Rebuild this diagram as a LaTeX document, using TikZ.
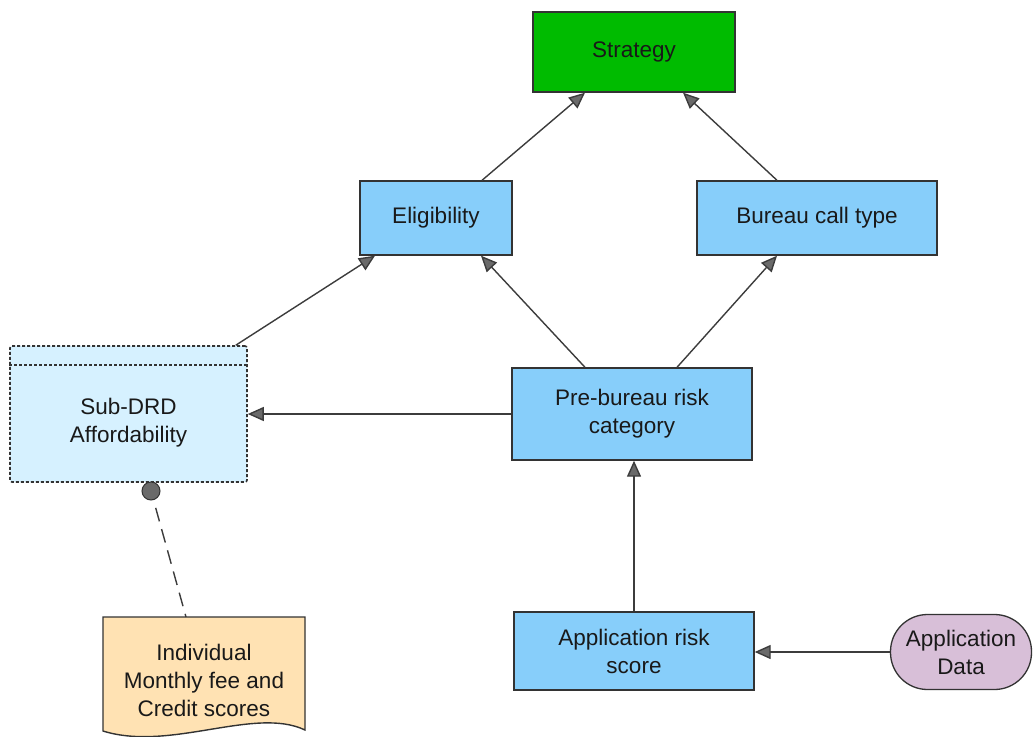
\documentclass[tikz,border=0pt]{standalone}
\usepackage{fontspec}
\setmainfont{Liberation Sans}
\usetikzlibrary{arrows.meta,calc}
\definecolor{stratgreen}{HTML}{00BB00}
\definecolor{boxblue}{HTML}{87CEFA}
\definecolor{subblue}{HTML}{D6F1FF}
\definecolor{docorange}{HTML}{FFE2B3}
\definecolor{datapurple}{HTML}{D8BFD8}
\definecolor{edgegray}{HTML}{3C3C3C}
\definecolor{bordergray}{HTML}{333333}
\definecolor{tipgray}{HTML}{6A6A6A}
\begin{document}
\begin{tikzpicture}[x=1pt,y=-1pt,
  txt/.style={font=\fontsize{22.5}{28}\selectfont, align=center, text=black!90},
  decision/.style={txt, draw=bordergray, line width=1.4pt, fill=boxblue, inner sep=0pt},
  subdrd/.style={draw=bordergray, line width=1.6pt, fill=subblue, dash pattern=on 3pt off 2pt, rounded corners=2pt, inner sep=0pt},
  datanode/.style={txt, draw=bordergray, line width=1.3pt, fill=datapurple, inner sep=0pt},
  req/.style={draw=edgegray, line width=1.4pt, -{Triangle[length=16pt,width=14pt,fill=tipgray]}},
  knowl/.style={draw=edgegray, line width=1.4pt, dash pattern=on 14pt off 8pt, dash phase=14pt}
]
\useasboundingbox (0,0) rectangle (1035,736);

\node[decision, fill=stratgreen, minimum width=202pt, minimum height=80pt] (strat) at (634,52) {Strategy};
\node[decision, minimum width=152pt, minimum height=74pt] (elig) at (436,218) {Eligibility};
\node[decision, minimum width=240pt, minimum height=74pt] (bureau) at (817,218) {Bureau call type};
\node[decision, minimum width=240pt, minimum height=92pt] (pre) at (632,414) {Pre-bureau risk\\category};
\node[decision, minimum width=240pt, minimum height=78pt] (ars) at (634,651) {Application risk\\score};
\node[datanode, rounded corners=37pt, minimum width=141pt, minimum height=75pt] (adata) at (961,652) {Application\\Data};

\node[subdrd, minimum width=237pt, minimum height=136pt] (sub) at (128.5,414) {};
\draw[bordergray, line width=1.6pt, dash pattern=on 3pt off 2pt] ([yshift=-20pt]sub.north west) -- ([yshift=-20pt]sub.north east);
\node[txt] (subtext) at ([yshift=-9pt]sub.center) {Sub-DRD\\Affordability};
\node[circle, draw=bordergray, line width=1pt, fill=tipgray, minimum size=18pt, inner sep=0pt] (knob) at (151,491) {};

\draw[draw=bordergray, line width=1.4pt, fill=docorange] (103,617) -- (305,617) -- (305,730) .. controls (255,706) and (170,752) .. (103,731) -- cycle;
\node[txt] (doc) at (204,680) {Individual\\Monthly fee and\\Credit scores};
\coordinate (doctop) at (186,617);

\draw[req] ([xshift=46pt]elig.north) -- ([xshift=-49pt]strat.south);
\draw[req] ([xshift=-40pt]bureau.north) -- ([xshift=49pt]strat.south);
\draw[req] ([xshift=-12pt]sub.north east) -- ([xshift=-61pt]elig.south);
\draw[req] ([xshift=-47pt]pre.north) -- ([xshift=45pt]elig.south);
\draw[req] ([xshift=45pt]pre.north) -- ([xshift=-40pt]bureau.south);
\draw[req] (pre.west) -- (pre.west -| sub.east);
\draw[req] (ars.north) -- (ars.north |- pre.south);
\draw[req] (adata.west) -- (adata.west -| ars.east);
\draw[knowl] (knob) -- (doctop);
\end{tikzpicture}
\end{document}
